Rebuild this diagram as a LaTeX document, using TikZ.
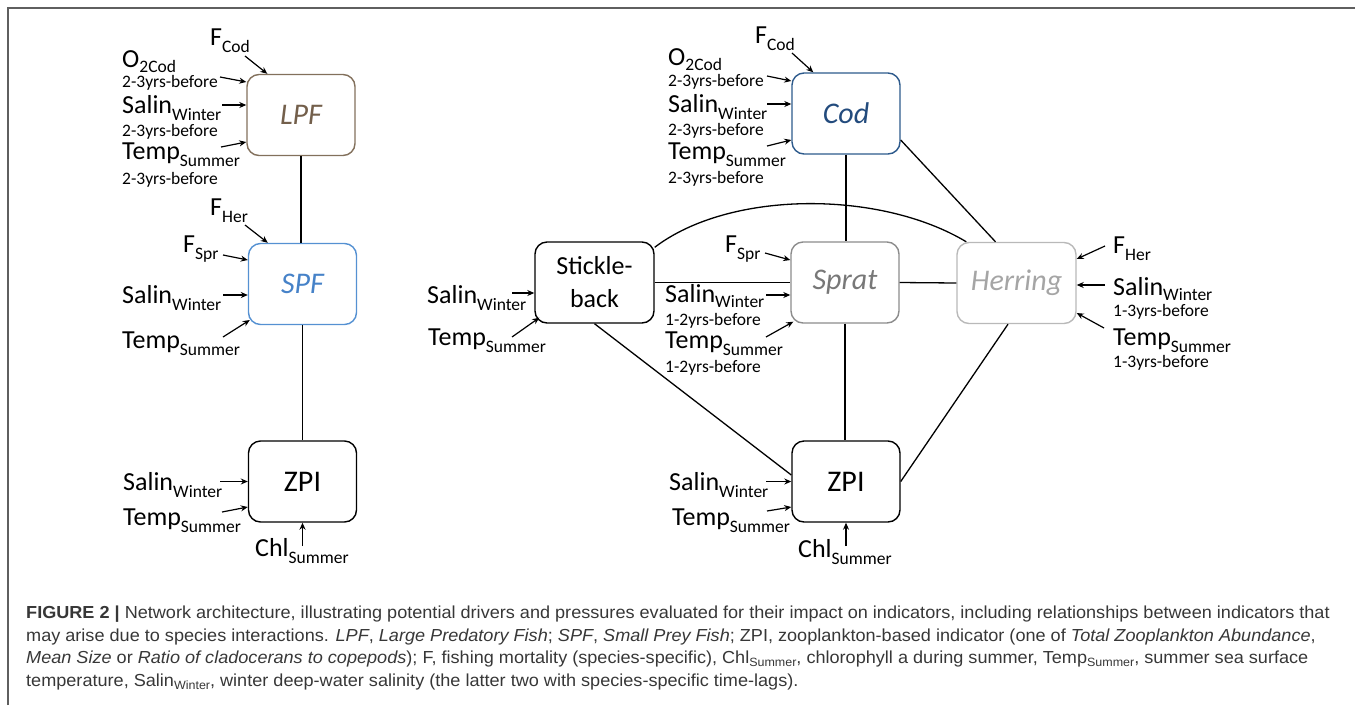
\documentclass[tikz,border=0pt]{standalone}
\usepackage{fontspec}
\setmainfont{Carlito}
\newfontfamily\capfont[FakeStretch=1.04]{Liberation Sans}
\usetikzlibrary{arrows.meta}
\definecolor{lpfc}{RGB}{130,112,92}
\definecolor{lpft}{RGB}{115,95,75}
\definecolor{spfc}{RGB}{85,145,210}
\definecolor{spft}{RGB}{70,130,200}
\definecolor{codc}{RGB}{45,90,140}
\definecolor{codt}{RGB}{35,75,125}
\definecolor{spratc}{RGB}{140,140,140}
\definecolor{spratt}{RGB}{120,120,120}
\definecolor{herc}{RGB}{185,185,185}
\definecolor{hert}{RGB}{165,165,165}
\definecolor{capc}{RGB}{55,55,55}
\definecolor{framec}{RGB}{95,95,95}
\newcommand\dsb[1]{\raisebox{-7pt}{\fontsize{17.5}{17.5}\selectfont #1}}
\newcommand\osb[1]{\raisebox{-5pt}{\fontsize{17.5}{17.5}\selectfont #1}}
\newcommand\csb[1]{\raisebox{-3pt}{\fontsize{12}{12}\selectfont #1}}
\begin{document}
\begin{tikzpicture}[x=1pt,y=-1pt,
  box/.style={draw, rounded corners=12pt, line width=1.4pt, minimum width=108pt, minimum height=81pt, inner sep=0pt, font=\fontsize{30}{32}\selectfont},
  wbox/.style={box, minimum width=119pt},
  lbl/.style={anchor=base west, inner sep=0pt, font=\fontsize{26}{26}\selectfont},
  sml/.style={anchor=base west, inner sep=0pt, font=\fontsize{17.5}{18}\selectfont},
  arr/.style={-{Stealth[length=7pt,width=6pt]}, line width=1.2pt},
  link/.style={line width=1.3pt},
  captxt/.style={anchor=base west, inner sep=0pt, text=capc, font=\capfont\fontsize{17.4}{20}\selectfont}]
\useasboundingbox (0,0) rectangle (1355,705);
% frame
\coordinate (fa) at (8,705);
\coordinate (fb) at (8,8);
\coordinate (fc) at (1355,8);
\draw[framec, line width=1.5pt] (fa) -- (fb) -- (fc);

% ---------- boxes ----------
\node[box, draw=lpfc, text=lpft] (LPF) at (301,115) {\itshape LPF};
\node[box, draw=spfc, text=spft] (SPF) at (302.5,284) {\itshape SPF};
\node[box] (ZPIl) at (302.5,481.5) {ZPI};
\node[wbox, align=center, font=\fontsize{26}{33}\selectfont] (Stk) at (594.5,282.5) {Stickle-\\back};
\node[box, draw=codc, text=codt] (Cod) at (846,113.5) {\itshape Cod};
\node[box, draw=spratc, text=spratt] (Sprat) at (845,282.5) {\itshape Sprat};
\node[wbox, draw=herc, text=hert] (Her) at (1016.5,283) {\itshape Herring};
\node[box] (ZPIr) at (846,481.5) {ZPI};

% ---------- links ----------
\draw[link] (LPF.south) -- (LPF.south |- SPF.north);
\draw[link] (SPF.south) -- (ZPIl.north);
\draw[link] (Cod.south) -- (Cod.south |- Sprat.north);
\draw[link] (Sprat.south) -- (Sprat.south |- ZPIr.north);
\draw[link] (Stk.east) -- (Sprat.west);
\draw[link] (Sprat.east) -- (Her.west);
\draw[link] ([yshift=-26.5pt]Cod.east) -- ([xshift=-21pt]Her.north);
\draw[link] ([yshift=-6pt]Stk.north east) .. controls (730,190) and (880,190) .. ([xshift=10pt]Her.north west);
\draw[link] (Stk.south) -- ([yshift=6.5pt]ZPIr.west);
\draw[link] ([xshift=-8.5pt]Her.south) -- (ZPIr.east);

% ---------- LPF drivers ----------
\node[lbl] (lFCod1) at (210,45) {F\dsb{Cod}};
\node[lbl] (lO1) at (122,67) {O\osb{2Cod}};
\node[sml] (lOlag1) at (122,87) {2-3yrs-before};
\node[lbl] (lS1) at (122,113) {Salin\dsb{Winter}};
\node[sml] (lSlag1) at (122,136) {2-3yrs-before};
\node[lbl] (lT1) at (122,159) {Temp\dsb{Summer}};
\node[sml] (lTlag1) at (122,184) {2-3yrs-before};
\coordinate (a1) at (245,56);
\coordinate (a2) at (220,77);
\coordinate (a3) at (222,105);
\coordinate (a4) at (221,147);
\draw[arr] (a1) -- ([xshift=21pt]LPF.north west);
\draw[arr] (a2) -- ([yshift=33pt]LPF.west);
\draw[arr] (a3) -- ([yshift=10pt]LPF.west);
\draw[arr] (a4) -- ([yshift=-27pt]LPF.west);

% ---------- SPF drivers ----------
\node[lbl] (lFHer2) at (210,215) {F\dsb{Her}};
\node[lbl] (lFSpr2) at (183,252) {F\dsb{Spr}};
\node[lbl] (lS2) at (122,303) {Salin\dsb{Winter}};
\node[lbl] (lT2) at (122,348) {Temp\dsb{Summer}};
\coordinate (b1) at (245,225);
\coordinate (b2) at (223,255);
\coordinate (b3) at (223,295);
\coordinate (b4) at (223,337);
\draw[arr] (b1) -- ([xshift=20pt]SPF.north west);
\draw[arr] (b2) -- ([yshift=24pt]SPF.west);
\draw[arr] (b3) -- ([yshift=-11pt]SPF.west);
\draw[arr] (b4) -- ([xshift=2pt,yshift=-36pt]SPF.west);

% ---------- ZPI left drivers ----------
\node[lbl] (lS3) at (123,490) {Salin\dsb{Winter}};
\node[lbl] (lT3) at (123,525) {Temp\dsb{Summer}};
\node[lbl] (lC3) at (255,556) {Chl\dsb{Summer}};
\coordinate (c1) at (220,481.5);
\coordinate (c2) at (222,512);
\coordinate (c3) at (302.5,546);
\draw[arr] (c1) -- (ZPIl.west);
\draw[arr] (c2) -- ([yshift=-25.5pt]ZPIl.west);
\draw[arr] (c3) -- (ZPIl.south);

% ---------- Stickleback drivers ----------
\node[lbl] (lS4) at (427,303) {Salin\dsb{Winter}};
\node[lbl] (lT4) at (428,345) {Temp\dsb{Summer}};
\coordinate (d1) at (512,293);
\coordinate (d2) at (512,337);
\draw[arr] (d1) -- ([yshift=-10.5pt]Stk.west);
\draw[arr] (d2) -- ([xshift=5pt,yshift=6pt]Stk.south west);

% ---------- Cod drivers ----------
\node[lbl] (lFCod5) at (755,43) {F\dsb{Cod}};
\node[lbl] (lO5) at (668,65) {O\osb{2Cod}};
\node[sml] (lOlag5) at (668,86) {2-3yrs-before};
\node[lbl] (lS5) at (668,112) {Salin\dsb{Winter}};
\node[sml] (lSlag5) at (668,135) {2-3yrs-before};
\node[lbl] (lT5) at (668,159) {Temp\dsb{Summer}};
\node[sml] (lTlag5) at (668,183) {2-3yrs-before};
\coordinate (e1) at (792,53);
\coordinate (e2) at (767,76);
\coordinate (e3) at (767,104);
\coordinate (e4) at (767,146);
\draw[arr] (e1) -- ([xshift=22pt]Cod.north west);
\draw[arr] (e2) -- ([yshift=32.5pt]Cod.west);
\draw[arr] (e3) -- ([yshift=9.5pt]Cod.west);
\draw[arr] (e4) -- ([yshift=-26.5pt]Cod.west);

% ---------- Sprat drivers ----------
\node[lbl] (lFSpr6) at (725,252) {F\dsb{Spr}};
\node[lbl] (lS6) at (665,302) {Salin\osb{Winter}};
\node[sml] (lSlag6) at (665,325) {1-2yrs-before};
\node[lbl] (lT6) at (665,348) {Temp\dsb{Summer}};
\node[sml] (lTlag6) at (665,372) {1-2yrs-before};
\coordinate (f1) at (765,253);
\coordinate (f2) at (766,295);
\coordinate (f3) at (766,337);
\draw[arr] (f1) -- ([yshift=22.5pt]Sprat.west);
\draw[arr] (f2) -- ([yshift=-12.5pt]Sprat.west);
\draw[arr] (f3) -- ([xshift=3pt,yshift=2pt]Sprat.south west);

% ---------- Herring drivers ----------
\node[lbl] (lFHer7) at (1113,253) {F\dsb{Her}};
\node[lbl] (lS7) at (1113,295) {Salin\osb{Winter}};
\node[sml] (lSlag7) at (1113,316) {1-3yrs-before};
\node[lbl] (lT7) at (1113,345) {Temp\dsb{Summer}};
\node[sml] (lTlag7) at (1113,367) {1-3yrs-before};
\coordinate (g1) at (1105,246);
\coordinate (g2) at (1105,285);
\coordinate (g3) at (1104,328);
\draw[arr] (g1) -- ([yshift=24pt]Her.east);
\draw[arr] (g2) -- ([yshift=-2pt]Her.east);
\draw[arr] (g3) -- ([yshift=-30pt]Her.east);

% ---------- ZPI right drivers ----------
\node[lbl] (lS8) at (669,490) {Salin\dsb{Winter}};
\node[lbl] (lT8) at (672,525) {Temp\dsb{Summer}};
\node[lbl] (lC8) at (798,557) {Chl\dsb{Summer}};
\coordinate (h1) at (766,481.5);
\coordinate (h2) at (767,511);
\coordinate (h3) at (846,546);
\draw[arr] (h1) -- (ZPIr.west);
\draw[arr] (h2) -- ([yshift=-25.5pt]ZPIr.west);
\draw[arr] (h3) -- (ZPIr.south);

% ---------- caption ----------
\node[captxt] (cap1) at (26,618) {\textbf{FIGURE 2 |} Network architecture, illustrating potential drivers and pressures evaluated for their impact on indicators, including relationships between indicators that};
\node[captxt] (cap2) at (26,641) {may arise due to species interactions. \textit{LPF}, \textit{Large Predatory Fish}; \textit{SPF}, \textit{Small Prey Fish}; ZPI, zooplankton-based indicator (one of \textit{Total Zooplankton Abundance},};
\node[captxt] (cap3) at (26,663) {\textit{Mean Size} or \textit{Ratio of cladocerans to copepods}); F, fishing mortality (species-specific), Chl\csb{Summer}, chlorophyll a during summer, Temp\csb{Summer}, summer sea surface};
\node[captxt] (cap4) at (26,686) {temperature, Salin\csb{Winter}, winter deep-water salinity (the latter two with species-specific time-lags).};
\end{tikzpicture}
\end{document}
